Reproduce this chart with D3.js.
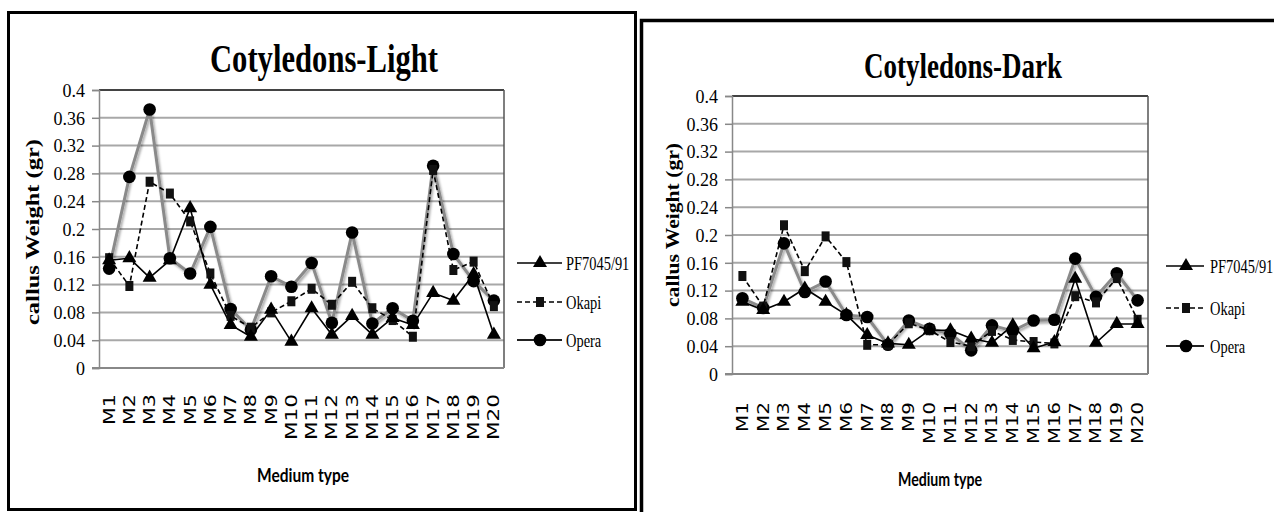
<!DOCTYPE html>
<html><head><meta charset="utf-8">
<script src="https://cdn.jsdelivr.net/npm/d3@7"></script>
<style>body{margin:0;background:#fff}svg{display:block}</style>
</head><body>
<svg id="c" width="1274" height="512"></svg>
<script>
const categories = ["M1","M2","M3","M4","M5","M6","M7","M8","M9","M10","M11","M12","M13","M14","M15","M16","M17","M18","M19","M20"];
const seriesNames = ["PF7045/91","Okapi","Opera"];
const yTicks = [0,0.04,0.08,0.12,0.16,0.2,0.24,0.28,0.32,0.36,0.4];

const lightPF    = [0.155,0.158,0.13,0.155,0.23,0.12,0.062,0.045,0.084,0.038,0.086,0.048,0.075,0.048,0.072,0.062,0.108,0.097,0.135,0.048];
const lightOkapi = [0.158,0.118,0.268,0.251,0.211,0.136,0.075,0.058,0.08,0.096,0.114,0.091,0.124,0.086,0.069,0.045,0.285,0.141,0.153,0.089];
const lightOpera = [0.143,0.275,0.372,0.158,0.136,0.203,0.085,0.055,0.132,0.117,0.151,0.065,0.195,0.064,0.086,0.068,0.291,0.164,0.125,0.097];

const darkPF    = [0.104,0.092,0.104,0.123,0.104,0.085,0.056,0.044,0.042,0.063,0.063,0.051,0.045,0.07,0.037,0.046,0.137,0.045,0.072,0.072];
const darkOkapi = [0.141,0.097,0.214,0.148,0.198,0.161,0.042,0.042,0.073,0.063,0.046,0.04,0.062,0.049,0.046,0.044,0.112,0.103,0.138,0.078];
const darkOpera = [0.109,0.095,0.188,0.118,0.133,0.085,0.082,0.042,0.077,0.065,0.058,0.034,0.07,0.062,0.077,0.078,0.166,0.111,0.145,0.106];

const svg = d3.select("#c");
const defs = svg.append("defs");
defs.append("filter").attr("id","sh").attr("x","-10%").attr("y","-10%").attr("width","130%").attr("height","130%")
  .append("feDropShadow").attr("dx",1.5).attr("dy",2).attr("stdDeviation",1.2).attr("flood-color","#000").attr("flood-opacity",0.35);

// panel frames
svg.append("rect").attr("x",8.5).attr("y",12.5).attr("width",627).attr("height",497)
  .attr("fill","none").attr("stroke","#000").attr("stroke-width",3);
svg.append("rect").attr("x",641.5).attr("y",20.5).attr("width",700).attr("height",600)
  .attr("fill","none").attr("stroke","#000").attr("stroke-width",3.5);

const styles = [
  {stroke:"#000", width:1.6, dash:null, marker:"tri", filter:null},
  {stroke:"#000", width:1.6, dash:"5,3", marker:"sq", filter:null},
  {stroke:"#8a8a8a", width:3, dash:null, marker:"circ", filter:"url(#sh)"}
];

function marker(g, type, x, y){
  if(type==="tri") g.append("path").attr("d", d3.symbol().type(d3.symbolTriangle).size(85)()).attr("transform",`translate(${x},${y})`).attr("fill","#000");
  else if(type==="sq") g.append("rect").attr("x",x-4).attr("y",y-5).attr("width",8).attr("height",10).attr("fill","#111");
  else g.append("circle").attr("cx",x).attr("cy",y).attr("r",6.3).attr("fill","#000");
}

function panel(p){
  const g = svg.append("g");
  const x = d3.scalePoint().domain(categories).range([p.x0,p.x1]).padding(0.5);
  const y = d3.scaleLinear().domain([0,0.4]).range([p.y1,p.y0]);
  // gridlines
  g.selectAll("line.grid").data(yTicks.filter(d=>d>0)).join("line")
    .attr("x1",p.x0).attr("x2",p.x1).attr("y1",d=>y(d)).attr("y2",d=>y(d))
    .attr("stroke","#a8a8a8").attr("stroke-width",2);
  // plot border
  g.append("line").attr("x1",p.x0).attr("x2",p.x1).attr("y1",p.y0).attr("y2",p.y0).attr("stroke","#222").attr("stroke-width",1.5);
  g.append("line").attr("x1",p.x1).attr("x2",p.x1).attr("y1",p.y0).attr("y2",p.y1).attr("stroke","#555").attr("stroke-width",1.5);
  g.append("line").attr("x1",p.x0-7).attr("x2",p.x1).attr("y1",p.y1).attr("y2",p.y1).attr("stroke","#888").attr("stroke-width",2);
  // y axis
  const ax = g.append("g").attr("transform",`translate(${p.x0},0)`)
    .call(d3.axisLeft(y).tickValues(yTicks).tickSize(7).tickFormat(d=>d===0?"0":String(+d.toFixed(2))));
  ax.select(".domain").attr("stroke","#888").attr("stroke-width",1.5);
  ax.selectAll(".tick line").attr("stroke","#888").attr("stroke-width",1.5);
  ax.selectAll(".tick text").attr("font-family","'Liberation Serif',serif").attr("font-size",18)
    .attr("fill","#000").attr("x",-p.tickGap).attr("dy","0.35em");
  // x labels
  g.selectAll("text.xl").data(categories).join("text")
    .attr("transform",d=>`translate(${x(d)},${p.xlabY}) rotate(-90)`)
    .attr("text-anchor","end").attr("dy","0.36em")
    .attr("font-family","'DejaVu Sans',sans-serif").attr("font-size",15).attr("fill","#000")
    .attr("textLength",d=>d.length===2?p.len2:p.len3).attr("lengthAdjust","spacingAndGlyphs")
    .text(d=>d);
  // series
  const line = d3.line().x((d,i)=>x(categories[i])).y(d=>y(d));
  const order = [2,1,0];
  order.forEach(k=>{
    const s = styles[k];
    g.append("path").datum(p.data[k]).attr("d",line).attr("fill","none")
      .attr("stroke",s.stroke).attr("stroke-width",s.width).attr("stroke-dasharray",s.dash)
      .attr("stroke-linejoin","round").attr("filter",s.filter);
  });
  order.forEach(k=>{
    p.data[k].forEach((v,i)=>marker(g, styles[k].marker, x(categories[i]), y(v)));
  });
  // title
  g.append("text").attr("x",p.titleX).attr("y",p.titleY).attr("text-anchor","middle")
    .attr("font-family","'Liberation Serif',serif").attr("font-weight","bold").attr("font-size",p.titleSize)
    .attr("textLength",p.titleLen).attr("lengthAdjust","spacingAndGlyphs").text(p.title);
  // y title
  g.append("text").attr("transform",`translate(${p.ylX},${p.ylY}) rotate(-90)`).attr("text-anchor","middle")
    .attr("dy","0.35em").attr("font-family","'Liberation Serif',serif").attr("font-weight","bold").attr("font-size",18)
    .attr("textLength",p.ylLen).attr("lengthAdjust","spacingAndGlyphs").text("callus Weight (gr)");
  // x title
  g.append("text").attr("x",p.mtX).attr("y",p.mtY).attr("text-anchor","middle")
    .attr("font-family","Lato,sans-serif").attr("font-weight","bold").attr("font-size",18)
    .attr("textLength",p.mtLen).attr("lengthAdjust","spacingAndGlyphs").text("Medium type");
  // legend
  seriesNames.forEach((n,k)=>{
    const s = styles[k]; const ly = p.legYs[k];
    g.append("line").attr("x1",p.legX0).attr("x2",p.legX1).attr("y1",ly).attr("y2",ly)
      .attr("stroke",k===2?"#222":"#000").attr("stroke-width",k===2?2:1.6).attr("stroke-dasharray",s.dash);
    marker(g, s.marker, p.legM, ly);
    g.append("text").attr("transform",`translate(${p.legT},${ly}) scale(0.76,1)`).attr("dy","0.35em")
      .attr("font-family","'Liberation Serif',serif").attr("font-size",19).text(n);
  });
}

panel({x0:99,x1:504,y0:90,y1:368, tickGap:14, xlabY:394, len2:31, len3:46,
  title:"Cotyledons-Light", titleX:324, titleY:72, titleSize:39, titleLen:228,
  ylX:33, ylY:232, ylLen:186, mtX:303, mtY:482, mtLen:92,
  legX0:517, legX1:562, legM:540, legT:566, legYs:[263,302,340],
  data:[lightPF, lightOkapi, lightOpera]});

panel({x0:732,x1:1148,y0:96,y1:374, tickGap:14, xlabY:402, len2:30, len3:42,
  title:"Cotyledons-Dark", titleX:963, titleY:78, titleSize:36, titleLen:198,
  ylX:673, ylY:225, ylLen:164, mtX:940, mtY:486, mtLen:84,
  legX0:1166, legX1:1204, legM:1186, legT:1210, legYs:[266,308,346],
  data:[darkPF, darkOkapi, darkOpera]});
</script>
</body></html>
